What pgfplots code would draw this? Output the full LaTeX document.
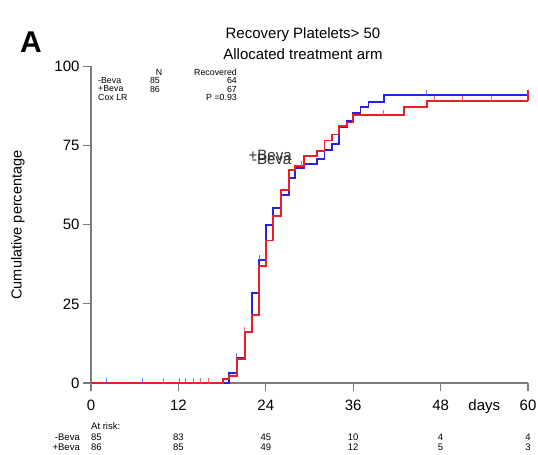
\documentclass[border=0pt]{standalone}
\usepackage{fontspec}
\setmainfont{Liberation Sans}
\usepackage{pgfplots}
\pgfplotsset{compat=1.18}
\definecolor{kmblue}{RGB}{35,35,230}
\definecolor{kmred}{RGB}{235,30,40}
\definecolor{axgray}{RGB}{125,125,125}
\definecolor{lbl}{RGB}{50,50,50}
\begin{document}
\begin{tikzpicture}[x=1pt,y=1pt]
\begin{axis}[
  at={(0,0)}, anchor=south west,
  scale only axis, width=437pt, height=316.5pt,
  xmin=0, xmax=60, ymin=0, ymax=100,
  axis x line*=bottom, axis y line*=left,
  axis line style={axgray, line width=1.3pt, -},
  xtick={0,12,24,36,48,60}, ytick={0,25,50,75,100},
  extra x ticks={54}, extra x tick labels={days},
  extra x tick style={tick style={draw=none}},
  tick align=outside, major tick length=8pt,
  tick style={axgray, line width=1.2pt},
  ticklabel style={font=\fontsize{15}{15}\selectfont, text=black},
  xticklabel style={yshift=-5pt},
  /pgf/number format/assume math mode=true,
  clip=false,
]
% blue series
\addplot[kmblue, line width=1.8pt, const plot] coordinates {
(0,0) (19.0,3.2) (20.0,7.9) (21.1,16.2) (22.1,28.4) (23.1,38.9) (24.0,50.0)
(25.0,55.4) (26.05,59.5) (27.15,64.8) (28.0,67.9) (29.2,69.3) (31.0,70.8)
(32.05,73.5) (33.05,75.5) (34.1,81.0) (35.1,82.8) (36.0,85.4) (37.0,87.2)
(38.1,88.9) (40.2,91.1) (60,91.1)};
% red series
\addplot[kmred, line width=1.8pt, const plot] coordinates {
(0,0) (18.1,1.2) (19.0,2.2) (20.0,7.6) (21.1,16.2) (22.1,21.5) (23.1,37.0)
(24.0,45.0) (25.0,52.7) (26.05,60.9) (27.15,67.4) (28.0,68.5) (29.2,71.7)
(31.0,73.3) (32.05,76.6) (33.05,78.5) (34.1,81.2) (35.1,82.3) (36.0,84.8)
(43.0,87.3) (46.1,89.0) (60,89.0)};
% censoring marks
\addplot[kmblue!70, only marks, mark=|, mark size=2.5pt, mark options={line width=0.9pt}] coordinates {
(2.1,0.8) (7.0,0.8) (12.1,0.8) (13.0,0.8) (20.0,8.7) (23.1,39.7) (46.0,91.9) (60,91.9)};
\addplot[kmred!70, only marks, mark=|, mark size=2.5pt, mark options={line width=0.9pt}] coordinates {
(9.9,0.8) (14.0,0.8) (15.0,0.8) (16.1,0.8) (21.1,17.0) (28.9,69.3) (40.2,85.6)
(47.1,89.8) (51.0,89.8) (55.0,89.8)};
\addplot[kmred, only marks, mark=|, mark size=5.8pt, mark options={line width=1.6pt}] coordinates {(60,90.85)};
% overlapping group labels
\node[text=lbl, font=\fontsize{15}{15}\selectfont] at (axis cs:24.8,70.8) {-Beva};
\node[text=lbl, font=\fontsize{15}{15}\selectfont] at (axis cs:24.6,71.9) {+Beva};
\end{axis}
% titles
\node[font=\fontsize{15}{15}\selectfont] at (212,348) {Recovery Platelets> 50};
\node[font=\fontsize{15}{15}\selectfont] at (212,329) {Allocated treatment arm};
\node[font=\fontsize{30}{30}\selectfont\bfseries] at (-60,340.5) {A};
\node[rotate=90, font=\fontsize{14.5}{14.5}\selectfont] at (-73,158) {Cumulative percentage};
% summary table
\begin{scope}[every node/.style={font=\fontsize{8.8}{8.8}\selectfont, inner sep=0pt}]
\node[anchor=center] at (68,311) {N};
\node[anchor=east] at (146,311) {Recovered};
\node[anchor=west] at (7,302.5) {-Beva};
\node[anchor=center] at (64,302.5) {85};
\node[anchor=east] at (146,302.5) {64};
\node[anchor=west] at (7,294) {+Beva};
\node[anchor=center] at (64,294) {86};
\node[anchor=east] at (146,294) {67};
\node[anchor=west] at (7,285.5) {Cox LR};
\node[anchor=east] at (146,285.5) {P =0.93};
\end{scope}
% at risk table
\begin{scope}[every node/.style={font=\fontsize{9.5}{9.5}\selectfont, inner sep=0pt}]
\node[anchor=west] at (0,-43) {At risk:};
\node[anchor=east] at (-11,-54) {-Beva};
\node[anchor=east] at (-11,-64.5) {+Beva};
\node[anchor=west] at (0,-54) {85};
\node[anchor=west] at (0,-64.5) {86};
\node at (87.4,-54) {83};   \node at (87.4,-64.5) {85};
\node at (174.8,-54) {45};  \node at (174.8,-64.5) {49};
\node at (262.2,-54) {10};  \node at (262.2,-64.5) {12};
\node at (349.6,-54) {4};   \node at (349.6,-64.5) {5};
\node at (437,-54) {4};     \node at (437,-64.5) {3};
\end{scope}
\pgfresetboundingbox
\useasboundingbox (-91,-72) rectangle (447,383);
\end{tikzpicture}
\end{document}
